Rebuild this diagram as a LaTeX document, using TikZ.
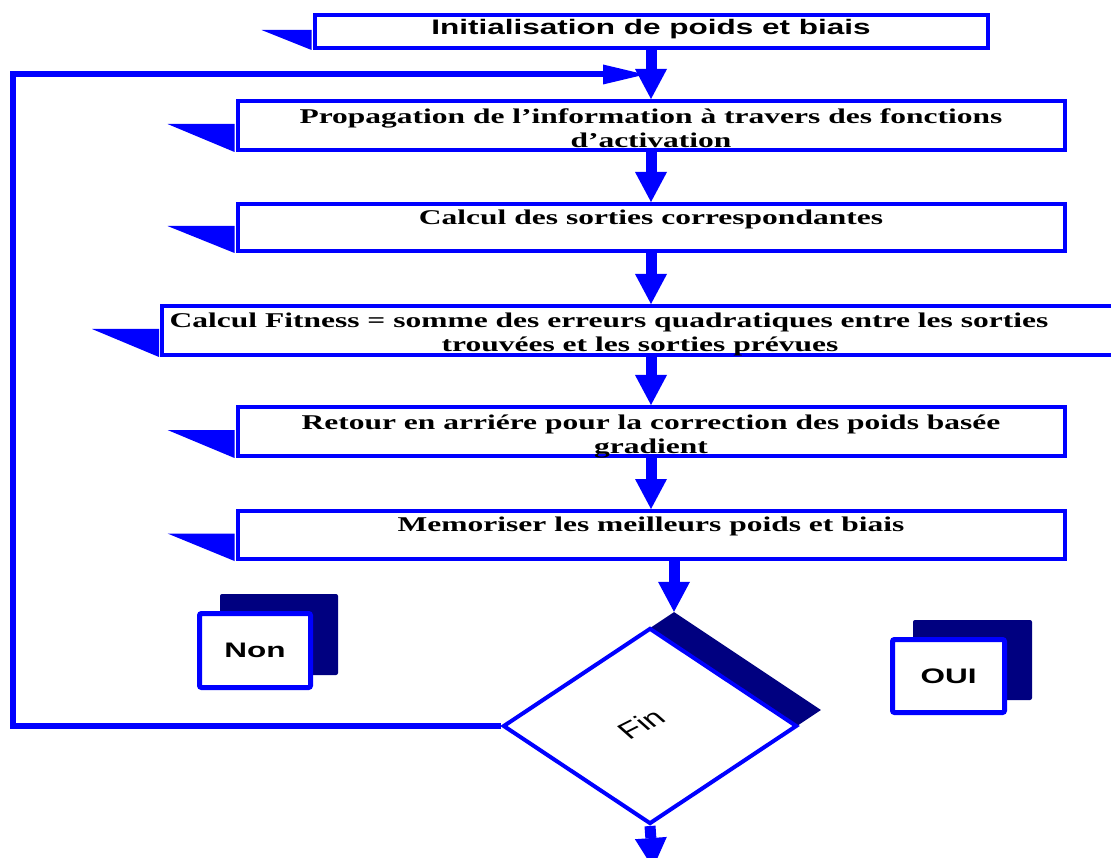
\documentclass[tikz,border=0pt]{standalone}
\usepackage{fontspec}
\usetikzlibrary{arrows.meta,shapes.geometric}
\newfontfamily\wideserif[FakeStretch=1.5]{Liberation Serif}
\newfontfamily\widesans[FakeStretch=1.5]{Liberation Sans}
\newfontfamily\plainsans{Liberation Sans}
\definecolor{flowblue}{RGB}{0,0,255}
\definecolor{flownavy}{RGB}{0,0,128}
\begin{document}
\begin{tikzpicture}[x=1pt,y=-1pt,
  stepbox/.style={draw=flowblue, line width=4pt, fill=white, rectangle, inner sep=0pt},
  steptext/.style={anchor=north, inner sep=0pt, align=center,
    font=\wideserif\bfseries\fontsize{21}{23.5}\selectfont},
  tab/.style={fill=flowblue, draw=none},
  flowarrow/.style={draw=flowblue, line width=11pt,
    -{Triangle[width=32pt,length=30pt,line width=0pt]}},
  loopline/.style={draw=flowblue, line width=6pt,
    -{Triangle[width=20pt,length=42pt,line width=0pt]}},
  notefront/.style={draw=flowblue, line width=5pt, fill=white, rounded corners=2pt,
    inner sep=0pt, font=\widesans\bfseries\fontsize{21}{24}\selectfont},
  noteback/.style={fill=flownavy, rounded corners=2pt, inner sep=0pt},
  decision/.style={diamond, draw=flowblue, line width=4pt, fill=white, inner sep=0pt,
    minimum width=294pt, minimum height=196pt},
  decisionback/.style={diamond, fill=flownavy, inner sep=0pt,
    minimum width=294pt, minimum height=196pt}]
\useasboundingbox (0,0) rectangle (1111,858);

% step boxes
\node[stepbox, minimum width=673pt, minimum height=33pt] (b1) at (651,31.5) {};
\node[stepbox, minimum width=827pt, minimum height=49pt] (b2) at (651,125.5) {};
\node[stepbox, minimum width=827pt, minimum height=47pt] (b3) at (651,227.5) {};
\node[stepbox, minimum width=956pt, minimum height=49pt] (b4) at (640,330.5) {};
\node[stepbox, minimum width=827pt, minimum height=49pt] (b5) at (651,431.5) {};
\node[stepbox, minimum width=827pt, minimum height=48pt] (b6) at (651,535) {};

% left tabs of the step boxes
\fill[tab] ([xshift=-1pt,yshift=1.5pt]b1.west) -- ++(-50,0) -- ([xshift=-1pt]b1.south west) -- cycle;
\foreach \b in {b2,b3,b4,b5,b6}
  \fill[tab] ([xshift=-1pt,yshift=1.5pt]\b.west) -- ++(-67,0) -- ([xshift=-1pt]\b.south west) -- cycle;

% step texts
\node[steptext, font=\widesans\bfseries\fontsize{21}{23.5}\selectfont]
  (t1) at ([yshift=-6pt]b1.north) {Initialisation de poids et biais};
\node[steptext] (t2) at ([yshift=-10pt]b2.north)
  {Propagation de l’information à travers des fonctions\\d’activation};
\node[steptext] (t3) at ([yshift=-8pt]b3.north) {Calcul des sorties correspondantes};
\node[steptext] (t4) at ([yshift=-9pt]b4.north)
  {Calcul Fitness = somme des erreurs quadratiques entre les sorties\hspace*{62pt}\\trouvées et les sorties prévues};
\node[steptext] (t5) at ([yshift=-10pt]b5.north)
  {Retour en arriére pour la correction des poids basée\\gradient};
\node[steptext] (t6) at ([yshift=-8pt]b6.north) {Memoriser les meilleurs poids et biais};

% decision
\node[decisionback] (dsh) at (674,710) {};
\node[decision] (dia) at (650,726) {};
\node[xscale=1.5, rotate=37, inner sep=0pt, font=\plainsans\fontsize{23}{24}\selectfont]
  (fin) at (641,724) {Fin};

% answer tags
\node[noteback, minimum width=118pt, minimum height=81pt] (nonb) at (279,634.5) {};
\node[notefront, minimum width=111pt, minimum height=74pt] (non) at (255,650.5) {Non};
\node[noteback, minimum width=119pt, minimum height=80pt] (ouib) at (972.5,660) {};
\node[notefront, minimum width=112pt, minimum height=73pt] (oui) at (948.5,676) {OUI};

% flow arrows
\draw[flowarrow] ([yshift=2pt]b1.south) -- (b1.south |- b2.north);
\draw[flowarrow] ([yshift=2pt]b2.south) -- (b2.south |- b3.north);
\draw[flowarrow] ([yshift=2pt]b3.south) -- (b3.south |- b4.north);
\draw[flowarrow] ([yshift=2pt]b3.south |- b4.south) -- (b3.south |- b5.north);
\draw[flowarrow] ([yshift=2pt]b5.south) -- (b5.south |- b6.north);
\draw[flowarrow] ([yshift=2pt]b6.south -| dsh.north) -- (dsh.north);
\coordinate (out) at (653,868);
\draw[flowarrow] (dia.south) -- (out);

% loop back to the propagation step
\coordinate (lc) at (13,74.5);
\draw[loopline] (dia.west) -| (lc) -- ([xshift=-6pt]lc -| b1.south);
\end{tikzpicture}
\end{document}
